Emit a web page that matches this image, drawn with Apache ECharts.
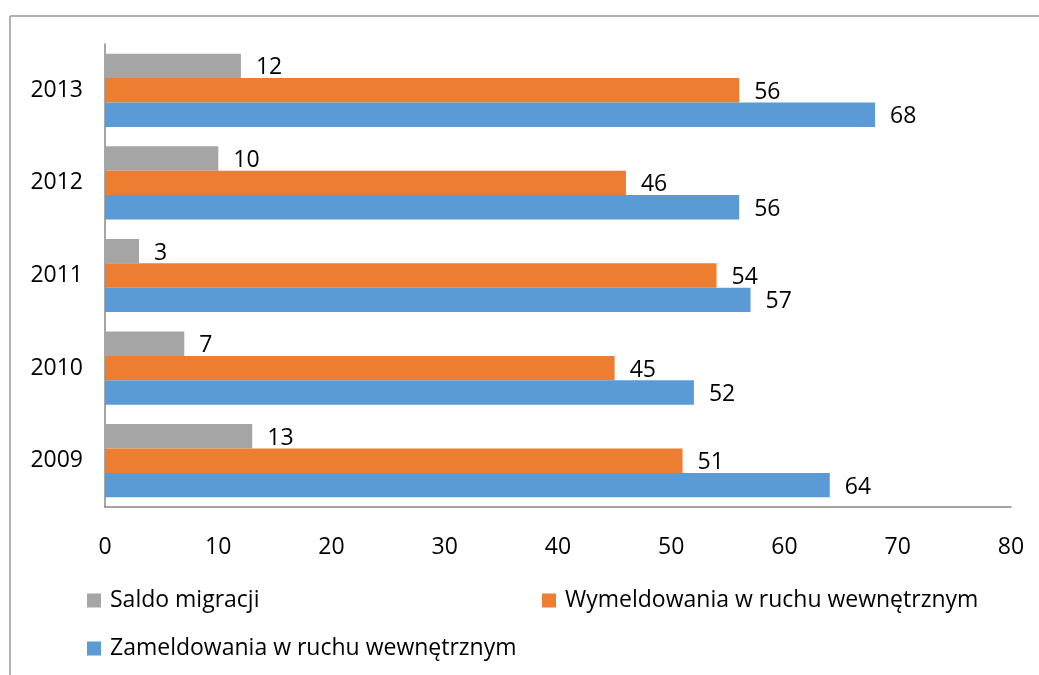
<!DOCTYPE html>
<html>
<head>
<meta charset="utf-8">
<script src="https://cdn.jsdelivr.net/npm/echarts@6/dist/echarts.min.js"></script>
<style>
  html, body { margin: 0; padding: 0; background: #fff; }
  #chart { width: 1039px; height: 675px; }
</style>
</head>
<body>
<div id="chart"></div>
<script>
// chart data
var years = ['2009', '2010', '2011', '2012', '2013']
var saldo = [13, 7, 3, 10, 12]
var wymeldowania = [51, 45, 54, 46, 56]
var zameldowania = [64, 52, 57, 56, 68]
var seriesNames = ['Saldo migracji', 'Wymeldowania w ruchu wewnętrznym', 'Zameldowania w ruchu wewnętrznym']
var colors = ['#a5a5a5', '#ed7d31', '#5b9bd5']

var font = '"Open Sans", Lato, sans-serif'
var fsize = 23

var chart = echarts.init(document.getElementById('chart'))

function makeSeries(name, data, color) {
  return {
    name: name,
    type: 'bar',
    data: data,
    barGap: '0%',
    barCategoryGap: '21%',
    itemStyle: { color: color },
    label: {
      show: true,
      position: 'right',
      distance: 15,
      offset: [0, 2],
      color: '#000',
      fontSize: fsize,
      fontFamily: font
    }
  }
}

function legendAt(name, left, top) {
  return {
    data: [name],
    left: left,
    top: top,
    itemWidth: 14,
    itemHeight: 14,
    itemGap: 0,
    icon: 'rect',
    textStyle: { color: '#000', fontSize: fsize, fontFamily: font, padding: [0, 0, 0, 4] }
  }
}

chart.setOption({
  animation: false,
  grid: { left: 105, right: 28, top: 44, bottom: 168 },
  legend: [
    legendAt(seriesNames[0], 82, 584),
    legendAt(seriesNames[1], 537, 584),
    legendAt(seriesNames[2], 82, 632)
  ],
  xAxis: {
    type: 'value',
    min: 0,
    max: 80,
    interval: 10,
    splitLine: { show: false },
    axisLine: { show: true, lineStyle: { color: '#888', width: 1.5 } },
    axisTick: { show: false },
    axisLabel: { color: '#000', fontSize: fsize, fontFamily: font, margin: 29 }
  },
  yAxis: {
    type: 'category',
    data: years,
    axisLine: { show: true, lineStyle: { color: '#888', width: 1.5 } },
    axisTick: { show: false },
    axisLabel: { color: '#000', fontSize: fsize, fontFamily: font, margin: 22, padding: [4, 0, 0, 0] }
  },
  graphic: [
    { type: 'line', shape: { x1: 10, y1: 16, x2: 1039, y2: 16 }, style: { stroke: '#999', lineWidth: 1.5 } },
    { type: 'line', shape: { x1: 10, y1: 16, x2: 10, y2: 675 }, style: { stroke: '#999', lineWidth: 1.5 } }
  ],
  series: [
    makeSeries(seriesNames[0], saldo, colors[0]),
    makeSeries(seriesNames[1], wymeldowania, colors[1]),
    makeSeries(seriesNames[2], zameldowania, colors[2])
  ]
})
</script>
</body>
</html>
